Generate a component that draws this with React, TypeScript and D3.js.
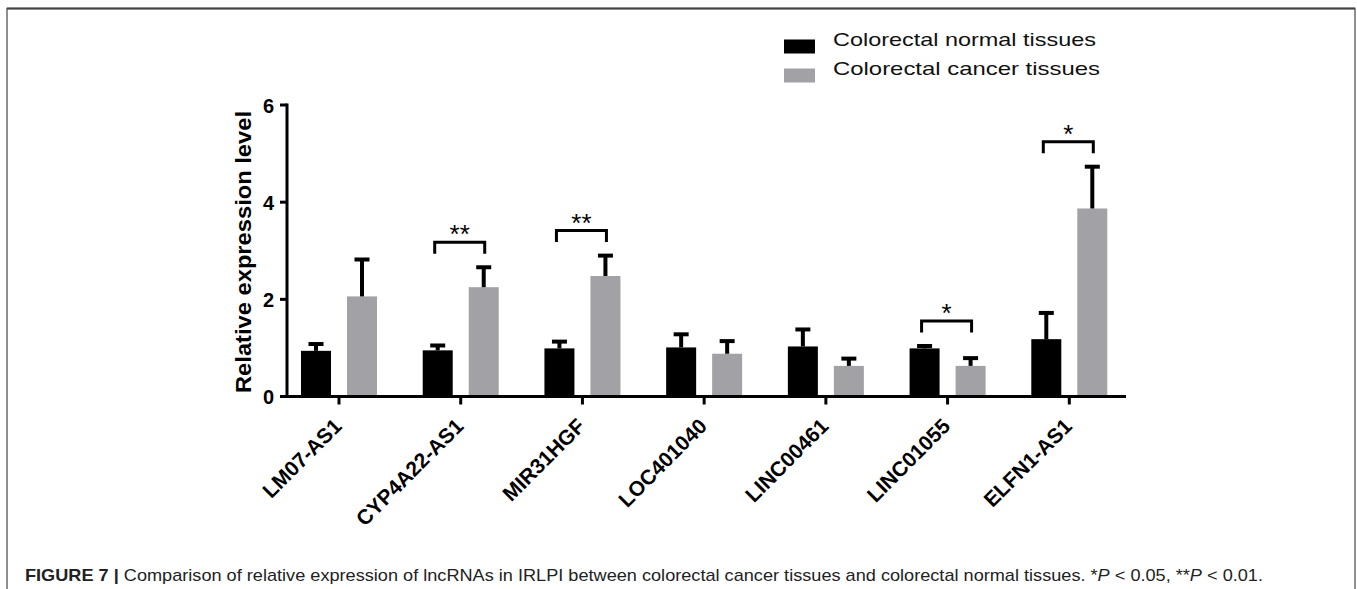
import React, { useEffect, useRef } from "react";
import * as d3 from "d3";

const genes = [
  "LM07-AS1",
  "CYP4A22-AS1",
  "MIR31HGF",
  "LOC401040",
  "LINC00461",
  "LINC01055",
  "ELFN1-AS1",
];
const seriesNames = ["Colorectal normal tissues", "Colorectal cancer tissues"];
const normalMean = [0.94, 0.95, 0.99, 1.01, 1.03, 0.99, 1.18];
const normalErr = [0.14, 0.1, 0.14, 0.27, 0.35, 0.05, 0.54];
const cancerMean = [2.06, 2.25, 2.48, 0.88, 0.63, 0.63, 3.87];
const cancerErr = [0.76, 0.41, 0.42, 0.26, 0.15, 0.16, 0.86];
const significance = ["", "**", "**", "", "", "*", "*"];
const yTicks = [0, 2, 4, 6];
const colors = ["#000000", "#a2a1a6"];

const FONT = "'Liberation Sans', Arial, Helvetica, sans-serif";

export default function App() {
  const svgRef = useRef<SVGSVGElement>(null);
  const width = 1357;
  const height = 589;

  useEffect(() => {
    const svg = d3.select(svgRef.current);
    svg.selectAll("*").remove();

    const means = [normalMean, cancerMean];
    const errs = [normalErr, cancerErr];

    // Scales
    const x = d3.scalePoint().domain(genes).range([339, 1069.3]);
    const sub = d3
      .scaleBand()
      .domain(["0", "1"])
      .range([-38, 38])
      .paddingInner(16 / 46);
    const y = d3.scaleLinear().domain([0, 6]).range([396.5, 105]);

    // Figure frame
    svg
      .append("rect")
      .attr("x", 7)
      .attr("y", 8.5)
      .attr("width", 1348)
      .attr("height", 600)
      .attr("fill", "none")
      .attr("stroke", "#6a6a6a")
      .attr("stroke-width", 1.5);
    svg
      .append("line")
      .attr("x1", 7)
      .attr("x2", 1355)
      .attr("y1", 8.5)
      .attr("y2", 8.5)
      .attr("stroke", "#444")
      .attr("stroke-width", 2);

    const g = svg.append("g");

    // Bars
    genes.forEach((gene, i) => {
      [0, 1].forEach((s) => {
        const x0 = x(gene)! + sub(String(s))!;
        const v = means[s][i];
        g.append("rect")
          .attr("x", x0)
          .attr("y", y(v))
          .attr("width", sub.bandwidth())
          .attr("height", y(0) - y(v))
          .attr("fill", colors[s]);
      });
    });

    // Error bars (upper only)
    genes.forEach((gene, i) => {
      [0, 1].forEach((s) => {
        const cx = x(gene)! + sub(String(s))! + sub.bandwidth() / 2;
        const top = y(means[s][i] + errs[s][i]);
        g.append("line")
          .attr("x1", cx)
          .attr("x2", cx)
          .attr("y1", y(means[s][i]))
          .attr("y2", top)
          .attr("stroke", "#000")
          .attr("stroke-width", 4);
        g.append("line")
          .attr("x1", cx - 7.5)
          .attr("x2", cx + 7.5)
          .attr("y1", top)
          .attr("y2", top)
          .attr("stroke", "#000")
          .attr("stroke-width", 4);
      });
    });

    // Significance brackets
    genes.forEach((gene, i) => {
      if (!significance[i]) return;
      const capTop =
        Math.min(
          y(normalMean[i] + normalErr[i]),
          y(cancerMean[i] + cancerErr[i])
        ) - 2;
      const legBottom = capTop - 11.5;
      const barTop = legBottom - 11.5;
      const left = x(gene)! - 26;
      const right = x(gene)! + 24;
      g.append("path")
        .attr("d", `M${left},${legBottom}V${barTop}H${right}V${legBottom}`)
        .attr("fill", "none")
        .attr("stroke", "#000")
        .attr("stroke-width", 3);
      g.append("text")
        .attr("x", (left + right) / 2)
        .attr("y", barTop + 1)
        .attr("text-anchor", "middle")
        .style("font-family", FONT)
        .style("font-size", "26px")
        .text(significance[i]);
    });

    // X axis
    g.append("line")
      .attr("x1", 285.5)
      .attr("x2", 1126)
      .attr("y1", y(0))
      .attr("y2", y(0))
      .attr("stroke", "#000")
      .attr("stroke-width", 3);
    genes.forEach((gene) => {
      g.append("line")
        .attr("x1", x(gene)!)
        .attr("x2", x(gene)!)
        .attr("y1", y(0))
        .attr("y2", y(0) + 8)
        .attr("stroke", "#000")
        .attr("stroke-width", 3);
      g.append("text")
        .attr("transform", `translate(${x(gene)! + 4},${y(0) + 31}) rotate(-45)`)
        .attr("text-anchor", "end")
        .style("font-family", FONT)
        .style("font-weight", "bold")
        .style("font-size", "21px")
        .text(gene);
    });

    // Y axis
    g.append("line")
      .attr("x1", 287)
      .attr("x2", 287)
      .attr("y1", y(6) - 1.5)
      .attr("y2", y(0) + 1.5)
      .attr("stroke", "#000")
      .attr("stroke-width", 3);
    yTicks.forEach((t) => {
      g.append("line")
        .attr("x1", 280)
        .attr("x2", 287)
        .attr("y1", y(t))
        .attr("y2", y(t))
        .attr("stroke", "#000")
        .attr("stroke-width", 3);
      g.append("text")
        .attr("x", 274)
        .attr("y", y(t) + 7.5)
        .attr("text-anchor", "end")
        .style("font-family", FONT)
        .style("font-weight", "bold")
        .style("font-size", "20px")
        .text(t);
    });

    g.append("text")
      .attr("transform", `translate(251,252) rotate(-90)`)
      .attr("text-anchor", "middle")
      .attr("textLength", 282)
      .attr("lengthAdjust", "spacingAndGlyphs")
      .style("font-family", FONT)
      .style("font-weight", "bold")
      .style("font-size", "22px")
      .text("Relative expression level");

    // Legend
    seriesNames.forEach((name, s) => {
      const ly = 39.5 + s * 29;
      svg
        .append("rect")
        .attr("x", 784)
        .attr("y", ly)
        .attr("width", 31)
        .attr("height", 14)
        .attr("fill", colors[s]);
      svg
        .append("text")
        .attr("x", 833)
        .attr("y", ly + 6)
        .attr("textLength", s === 0 ? 263 : 267)
        .attr("lengthAdjust", "spacingAndGlyphs")
        .style("font-family", FONT)
        .style("font-size", "19px")
        .attr("fill", "#111")
        .text(name);
    });

    // Caption
    const cap = svg
      .append("text")
      .attr("x", 25)
      .attr("y", 581)
      .attr("textLength", 1238)
      .attr("lengthAdjust", "spacingAndGlyphs")
      .style("font-family", FONT)
      .style("font-size", "17px")
      .attr("fill", "#222");
    cap.append("tspan").style("font-weight", "bold").text("FIGURE 7 |");
    cap
      .append("tspan")
      .text(
        " Comparison of relative expression of lncRNAs in IRLPI between colorectal cancer tissues and colorectal normal tissues. *"
      );
    cap.append("tspan").style("font-style", "italic").text("P");
    cap.append("tspan").text(" < 0.05, **");
    cap.append("tspan").style("font-style", "italic").text("P");
    cap.append("tspan").text(" < 0.01.");
  }, []);

  return (
    <svg
      ref={svgRef}
      width={width}
      height={height}
      style={{ position: "absolute", left: 0, top: 0, background: "#fff" }}
    ></svg>
  );
}
